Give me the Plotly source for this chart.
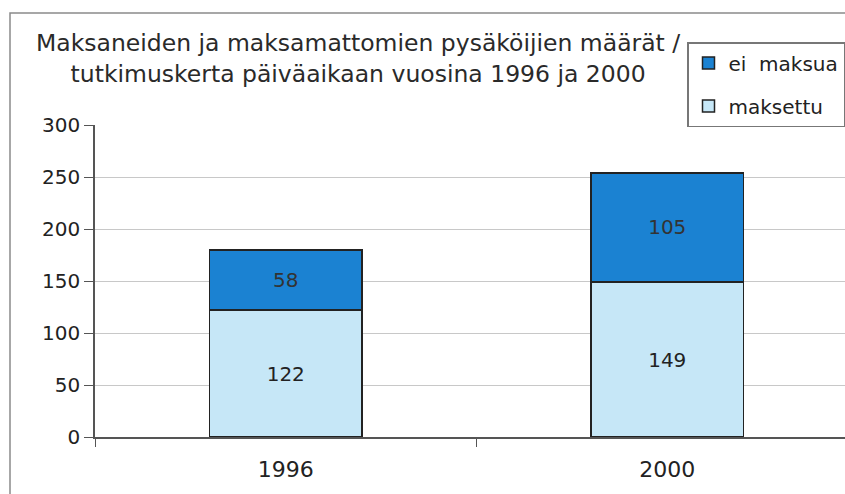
import plotly.graph_objects as go

years = ["1996", "2000"]
maksettu = [122, 149]
ei_maksua = [58, 105]
y_ticks = [0, 50, 100, 150, 200, 250, 300]
title_lines = ["Maksaneiden ja maksamattomien pysäköijien määrät /",
               "tutkimuskerta päiväaikaan vuosina 1996 ja 2000"]

FONT = "DejaVu Sans, Liberation Sans, sans-serif"
# figure is a little wider than the 845px window: the right edge is cut off as in the scan
W, H = 885, 494
ML, MR, MT, MB = 95, 27, 125, 57

fig = go.Figure()
fig.add_trace(go.Bar(
    x=years, y=maksettu, name="maksettu", legendgroup="a", legendrank=2,
    marker=dict(color="#c6e7f7", line=dict(color="#222222", width=1.5)),
    text=maksettu, textposition="inside", insidetextanchor="middle",
    textfont=dict(size=20, color="#222222", family=FONT),
    width=0.4,
))
fig.add_trace(go.Bar(
    x=years, y=ei_maksua, name="ei  maksua", legendgroup="b", legendrank=1,
    marker=dict(color="#1b82d2", line=dict(color="#222222", width=1.5)),
    text=ei_maksua, textposition="inside", insidetextanchor="middle",
    textfont=dict(size=20, color="#333333", family=FONT),
    width=0.4,
))

pw = W - ML - MR
ph = H - MT - MB
fig.add_shape(type="path", xref="paper", yref="paper",
              path=f"M {(10-ML)/pw} {-(MB+5)/ph} L {(10-ML)/pw} {(H-MB-13)/ph} L {(W+10-ML)/pw} {(H-MB-13)/ph}",
              line=dict(color="#8a8a8a", width=1.5), layer="below")

fig.add_annotation(text="<br>".join(title_lines), xref="paper", yref="paper",
                   x=(358-ML)/pw, xanchor="center", y=(H-MB-27)/ph, yanchor="top",
                   showarrow=False, align="center",
                   font=dict(size=23.5, family=FONT, color="#2a2a2a"))

fig.update_layout(
    width=W, height=H,
    margin=dict(l=ML, r=MR, t=MT, b=MB, autoexpand=False),
    barmode="stack",
    paper_bgcolor="white", plot_bgcolor="white",
    font=dict(family=FONT, size=20, color="#222222"),
    xaxis=dict(range=[-0.5, 1.5], tickson="boundaries", ticks="outside", ticklen=8,
               tickcolor="#555555", showline=True, linecolor="#555555", linewidth=1.5,
               showgrid=False, tickfont=dict(size=22), fixedrange=True,
               ticklabelstandoff=12),
    yaxis=dict(range=[0, 300], tickvals=y_ticks, ticks="outside", ticklen=9,
               tickcolor="#555555", showline=True, linecolor="#555555", linewidth=1.5,
               showgrid=True, gridcolor="#c8c8c8", gridwidth=1, zeroline=False,
               tickfont=dict(size=20), fixedrange=True),
    legend=dict(x=(687-ML)/pw, xanchor="left", y=(H-MB-42)/ph, yanchor="top",
                traceorder="grouped", tracegroupgap=14,
                bgcolor="white", bordercolor="#777777", borderwidth=1.5,
                font=dict(size=20), itemwidth=30),
    showlegend=True,
)
fig.write_html(
    "out.html", config={"displayModeBar": False},
    post_script=("document.body.style.margin='0px';"
                 "document.body.style.overflow='hidden';"
                 "document.documentElement.style.overflow='hidden';"))
